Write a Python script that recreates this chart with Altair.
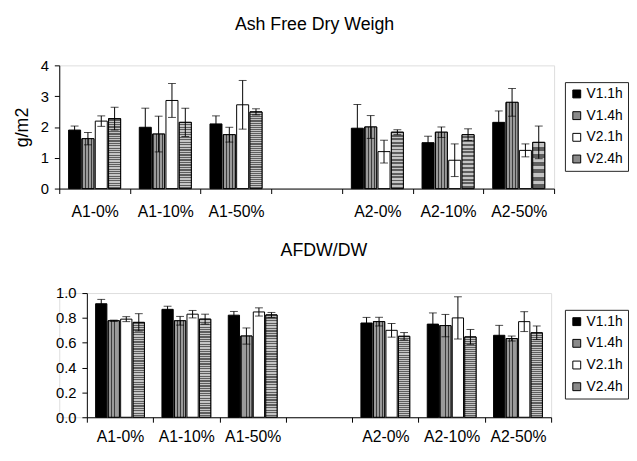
import altair as alt
import pandas as pd

categories = ["A1-0%", "A1-10%", "A1-50%", "A2-0%", "A2-10%", "A2-50%"]
x_domain = ["A1-0%", "A1-10%", "A1-50%", " ", "A2-0%", "A2-10%", "A2-50%"]
series = ["V1.1h", "V1.4h", "V2.1h", "V2.4h"]

# Ash free dry weight (g/m2): means and error bars
afdw_v11 = [1.90, 1.99, 2.10, 1.96, 1.49, 2.15]
afdw_v14 = [1.62, 1.77, 1.75, 2.00, 1.83, 2.80]
afdw_v21 = [2.19, 2.86, 2.72, 1.20, 0.92, 1.24]
afdw_v24 = [2.27, 2.15, 2.49, 1.83, 1.75, 1.50]
afdw_v11_err = [0.13, 0.62, 0.26, 0.77, 0.21, 0.37]
afdw_v14_err = [0.20, 0.58, 0.24, 0.37, 0.17, 0.45]
afdw_v21_err = [0.17, 0.55, 0.79, 0.37, 0.53, 0.21]
afdw_v24_err = [0.37, 0.46, 0.10, 0.08, 0.19, 0.53]

# AFDW/DW ratio: means and error bars
ratio_v11 = [0.914, 0.869, 0.822, 0.759, 0.750, 0.660]
ratio_v14 = [0.777, 0.777, 0.654, 0.770, 0.738, 0.634]
ratio_v21 = [0.790, 0.830, 0.848, 0.700, 0.800, 0.770]
ratio_v24 = [0.764, 0.790, 0.824, 0.652, 0.647, 0.680]
ratio_v11_err = [0.035, 0.025, 0.030, 0.045, 0.090, 0.080]
ratio_v14_err = [0.005, 0.035, 0.065, 0.035, 0.090, 0.020]
ratio_v21_err = [0.020, 0.030, 0.033, 0.055, 0.170, 0.080]
ratio_v24_err = [0.070, 0.040, 0.020, 0.030, 0.060, 0.055]

FONT = "Liberation Sans"


def build(means, errs):
    rows = []
    for s, m, e in zip(series, means, errs):
        for c, v, d in zip(categories, m, e):
            rows.append({"category": c, "series": s, "value": v,
                         "lo": v - d, "hi": v + d})
    return pd.DataFrame(rows)


df_afdw = build([afdw_v11, afdw_v14, afdw_v21, afdw_v24],
                [afdw_v11_err, afdw_v14_err, afdw_v21_err, afdw_v24_err])
df_ratio = build([ratio_v11, ratio_v14, ratio_v21, ratio_v24],
                 [ratio_v11_err, ratio_v14_err, ratio_v21_err, ratio_v24_err])


def stripes(n, c1, c2, frac, vertical_lines):
    stops = []
    for i in range(n):
        a = i / n
        b = (i + frac) / n
        c = (i + 1) / n
        stops += [alt.GradientStop(offset=a, color=c1),
                  alt.GradientStop(offset=b, color=c1),
                  alt.GradientStop(offset=b, color=c2),
                  alt.GradientStop(offset=c, color=c2)]
    if vertical_lines:
        return alt.LinearGradient(gradient="linear", stops=stops, x1=0, x2=1, y1=0, y2=0)
    return alt.LinearGradient(gradient="linear", stops=stops, x1=0, x2=0, y1=0, y2=1)


grad_v14 = stripes(4, "#3c3c3c", "#9a9a9a", 0.3, True)
grad_v24 = stripes(40, "#5e5e5e", "#c4c4c4", 0.5, False)


def panel(df, title, title_dx, title_offset, ydomain, yvalues, yfmt, ytitle, width,
          inset, height, xlabel_pad, legend_x, legend_y):
    xaxis = alt.Axis(title=None, labelAngle=0, tickBand="extent",
                     tickSize=5, labelFontSize=16, labelPadding=xlabel_pad,
                     labelFont=FONT, labelColor="black",
                     domainColor="black", tickColor="black")
    xenc = alt.X("category:N",
                 scale=alt.Scale(domain=x_domain, paddingInner=0, paddingOuter=0,
                                 range=[inset, width]),
                 axis=xaxis)
    xoff = alt.XOffset("series:N",
                       scale=alt.Scale(domain=series, paddingInner=0.1, paddingOuter=0.7))
    yscale = alt.Scale(domain=ydomain, nice=False, zero=True)
    axis_kw = dict(values=yvalues, format=yfmt, grid=False,
                   tickSize=5, labelFontSize=15, labelFont=FONT, labelColor="black",
                   labelPadding=6, domainColor="black", tickColor="black",
                   titleFontSize=18, titleFont=FONT, titleFontWeight="normal",
                   titleColor="black", titlePadding=9)
    if inset:
        axis_kw["offset"] = -inset
    yaxis = alt.Axis(**axis_kw)

    def yenc(field):
        return alt.Y(field, scale=yscale, axis=yaxis, title=ytitle)

    base = alt.Chart(df)
    bars = base.mark_bar(stroke="black", strokeWidth=1).encode(
        x=xenc, xOffset=xoff, y=yenc("value:Q"),
        color=alt.Color("series:N",
                        scale=alt.Scale(domain=series,
                                        range=["#000000", "#8a8a8a", "#ffffff", "#8a8a8a"]),
                        legend=alt.Legend(orient="none", legendX=legend_x, legendY=legend_y,
                                          title=None, symbolType="square", symbolSize=64,
                                          symbolStrokeColor="black", symbolStrokeWidth=1,
                                          labelFontSize=14, labelFont=FONT,
                                          labelColor="black", strokeColor="#222222",
                                          fillColor="white", padding=5, rowPadding=8,
                                          labelOffset=3)),
    )
    v14 = base.transform_filter(alt.datum.series == "V1.4h").mark_bar(
        fill=grad_v14, stroke="black", strokeWidth=1).encode(
        x=xenc, xOffset=xoff, y=yenc("value:Q"))
    v24 = base.transform_filter(alt.datum.series == "V2.4h").mark_bar(
        fill=grad_v24, stroke="black", strokeWidth=1).encode(
        x=xenc, xOffset=xoff, y=yenc("value:Q"))
    err = base.mark_rule(color="black", strokeWidth=1).encode(
        x=xenc, xOffset=xoff, y=yenc("lo:Q"), y2="hi:Q")
    cap_hi = base.mark_tick(color="black", size=8, thickness=1).encode(
        x=xenc, xOffset=xoff, y=yenc("hi:Q"))
    cap_lo = base.mark_tick(color="black", size=8, thickness=1).encode(
        x=xenc, xOffset=xoff, y=yenc("lo:Q"))
    return alt.layer(bars, v14, v24, err, cap_hi, cap_lo).properties(
        width=width, height=height,
        title=alt.TitleParams(title, fontSize=18, font=FONT, fontWeight="normal",
                              color="black", anchor="middle", frame="group",
                              offset=title_offset, dx=title_dx),
    )


top = panel(df_afdw, "Ash Free Dry Weigh", 8, 25, [0, 4], [0, 1, 2, 3, 4], "d",
            "g/m2", 502, 0, 125, 10, 513, 17)
bottom = panel(df_ratio, "AFDW/DW", 19, 27, [0, 1], [0, 0.2, 0.4, 0.6, 0.8, 1.0], ".1f",
               None, 499, 28, 126, 7, 513, 17)

chart = alt.vconcat(top, bottom, spacing=21).properties(
    padding={"left": 5, "top": 4, "right": 0, "bottom": 0}
).resolve_scale(
    color="independent", x="independent", y="independent", xOffset="independent"
).resolve_legend(color="independent").configure_view(
    strokeWidth=0, stroke="transparent"
).configure(background="white")

chart.save("out.html", embed_options={"renderer": "svg", "actions": False})
